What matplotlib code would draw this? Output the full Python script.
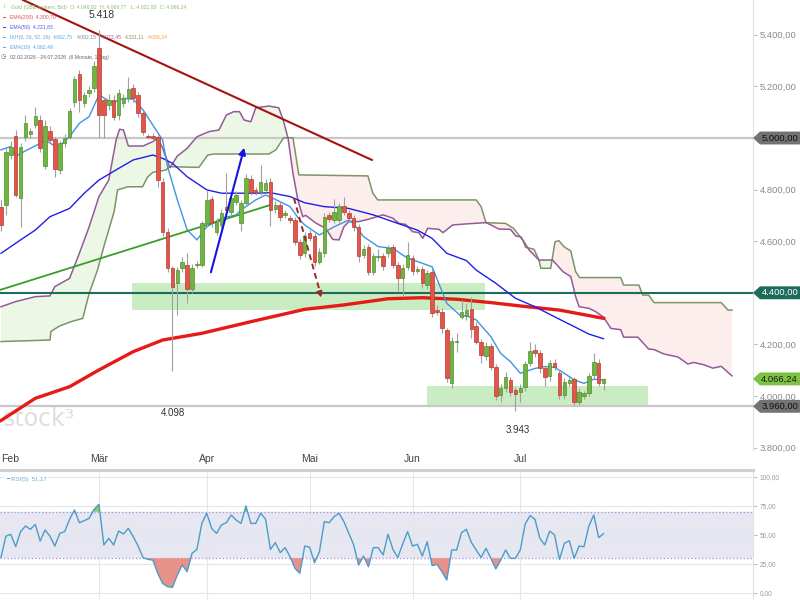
import numpy as np
import matplotlib
matplotlib.use("Agg")
import matplotlib.pyplot as plt
import matplotlib.transforms as mtrans
from matplotlib.patches import Polygon, Rectangle

plt.rcParams['font.family'] = ['Liberation Sans', 'DejaVu Sans']

# daily candles 02.02.2026 - 24.07.2026
opens = [4734, 4740, 4934, 5008, 4766, 5005, 5014, 5050, 5070, 4892,
         5029, 4995, 4876, 4979, 5005, 5141, 5248, 5134, 5176, 5193,
         5348, 5147, 5128, 5147, 5089, 5134, 5154, 5193, 5167, 5096,
         5008, 5008, 5003, 4831, 4637, 4495, 4437, 4495, 4508, 4414,
         4507, 4508, 4669, 4762, 4637, 4663, 4734, 4715, 4753, 4672,
         4750, 4840, 4799, 4792, 4799, 4831, 4724, 4740, 4702, 4689,
         4682, 4598, 4553, 4630, 4620, 4521, 4553, 4702, 4682, 4682,
         4738, 4711, 4691, 4656, 4547, 4576, 4482, 4538, 4543, 4553,
         4576, 4508, 4459, 4499, 4534, 4485, 4492, 4430, 4482, 4331,
         4327, 4256, 4049, 4208, 4308, 4310, 4336, 4271, 4211, 4155,
         4194, 4114, 4004, 4030, 4062, 4023, 4014, 4036, 4127, 4178,
         4168, 4107, 4078, 4129, 4090, 4004, 4052, 4065, 3978, 4000,
         4010, 4081, 4127, 4048.82]
closes = [4663, 4947, 4967, 4779, 4967, 5060, 5027, 5085, 4960, 5047,
          4992, 4879, 4979, 4999, 5106, 5228, 5147, 5167, 5186, 5279,
          5089, 5089, 5147, 5083, 5173, 5154, 5189, 5154, 5096, 5025,
          5003, 4999, 4837, 4637, 4495, 4424, 4488, 4521, 4414, 4495,
          4512, 4669, 4760, 4669, 4676, 4711, 4721, 4766, 4779, 4747,
          4844, 4792, 4790, 4831, 4824, 4721, 4740, 4695, 4708, 4682,
          4598, 4547, 4620, 4611, 4521, 4560, 4695, 4685, 4715, 4737,
          4715, 4689, 4656, 4543, 4569, 4482, 4543, 4544, 4504, 4572,
          4508, 4456, 4498, 4547, 4485, 4491, 4437, 4476, 4323, 4327,
          4262, 4071, 4215, 4213, 4327, 4333, 4258, 4211, 4159, 4194,
          4111, 4000, 4030, 4072, 4017, 4008, 4032, 4124, 4176, 4165,
          4107, 4075, 4127, 4114, 4004, 4056, 4062, 3978, 4017, 4010,
          4078, 4133, 4052, 4066.24]
highs = [4760, 4965, 4990, 5031, 4980, 5089, 5040, 5122, 5090, 5070,
         5045, 5005, 4990, 5015, 5115, 5240, 5265, 5180, 5200, 5300,
         5418, 5160, 5170, 5165, 5190, 5170, 5238, 5210, 5180, 5105,
         5015, 5020, 5010, 4845, 4650, 4505, 4500, 4540, 4553, 4510,
         4525, 4680, 4799, 4775, 4690, 4725, 4863, 4780, 4795, 4760,
         4860, 4855, 4810, 4895, 4840, 4845, 4755, 4755, 4720, 4700,
         4695, 4610, 4635, 4645, 4630, 4575, 4710, 4715, 4765, 4750,
         4773, 4720, 4700, 4665, 4585, 4590, 4555, 4570, 4555, 4585,
         4590, 4520, 4510, 4598, 4545, 4505, 4505, 4490, 4495, 4352,
         4340, 4265, 4230, 4246, 4372, 4360, 4385, 4285, 4220, 4210,
         4205, 4125, 4045, 4094, 4075, 4035, 4045, 4135, 4211, 4200,
         4180, 4120, 4140, 4145, 4100, 4070, 4075, 4075, 4030, 4020,
         4090, 4165, 4145, 4069.77]
lows = [4640, 4700, 4920, 4773, 4656, 4990, 5000, 5040, 4945, 4880,
        4980, 4850, 4860, 4965, 4995, 5120, 5102, 5120, 5160, 5180,
        5000, 4999, 5110, 5070, 5070, 5120, 5140, 5140, 5080, 5010,
        4995, 4990, 4810, 4620, 4480, 4098, 4314, 4480, 4359, 4400,
        4495, 4500, 4655, 4655, 4625, 4650, 4710, 4700, 4740, 4640,
        4735, 4780, 4780, 4780, 4790, 4660, 4710, 4680, 4690, 4670,
        4585, 4530, 4540, 4600, 4505, 4510, 4540, 4675, 4670, 4670,
        4700, 4675, 4640, 4521, 4535, 4469, 4470, 4525, 4490, 4540,
        4495, 4405, 4385, 4490, 4470, 4475, 4420, 4415, 4305, 4315,
        4243, 4055, 4030, 4172, 4300, 4295, 4224, 4200, 4127, 4140,
        4100, 3985, 3975, 4015, 4000, 3943, 3975, 4020, 4115, 4150,
        4090, 4040, 4060, 4100, 3990, 3990, 4040, 3965, 3965, 3990,
        4000, 4070, 4040, 4021.93]

month_pos = [0, 20, 42, 63, 84, 106]
month_names = ["Feb", "Mär", "Apr", "Mai", "Jun", "Jul"]

# moving averages, read at points along the lines
ema200_x = [0, 7, 14, 20, 27, 33, 41, 51, 62, 70, 79, 86, 93, 100, 106, 114, 123]
ema200_y = [3905, 3991, 4036, 4101, 4172, 4217, 4243, 4288, 4336, 4353, 4377,
            4381, 4375, 4362, 4349, 4333, 4301]
ema50_x = [0, 4, 7, 10, 14, 17, 20, 24, 27, 31, 33, 35, 38, 42, 45, 52, 55, 59,
           62, 66, 71, 76, 81, 85, 88, 91, 95, 97, 101, 105, 109, 113, 117, 120, 123]
ema50_y = [4553, 4605, 4643, 4695, 4727, 4786, 4837, 4882, 4915, 4934, 4921,
           4902, 4850, 4799, 4786, 4786, 4788, 4773, 4749, 4734, 4727, 4702,
           4669, 4643, 4611, 4553, 4525, 4488, 4437, 4379, 4346, 4307, 4269,
           4240, 4222]
ema10_x = [0, 2, 3, 4, 6, 8, 9, 11, 12, 14, 16, 18, 20, 22, 23, 25, 27, 29, 31,
           33, 34, 36, 38, 40, 41, 42, 45, 48, 49, 52, 54, 56, 59, 61, 62, 65,
           68, 71, 72, 74, 77, 80, 83, 85, 88, 91, 94, 95, 97, 100, 102, 104,
           106, 109, 111, 113, 115, 117, 119, 121, 123]
ema10_y = [4954, 4967, 4928, 4940, 4960, 4979, 4992, 4969, 4969, 5005, 5057,
           5083, 5167, 5144, 5138, 5154, 5150, 5109, 5050, 4992, 4889, 4760,
           4644, 4605, 4631, 4656, 4689, 4702, 4721, 4760, 4779, 4762, 4734,
           4682, 4663, 4624, 4656, 4682, 4667, 4618, 4579, 4572, 4534, 4521,
           4501, 4359, 4308, 4312, 4295, 4230, 4165, 4133, 4088, 4107, 4114,
           4111, 4088, 4062, 4049, 4065, 4062]

# Ichimoku cloud borders (span A purple, span B olive), 26 days ahead
spanA_x = [0, 3, 7, 10, 11, 14, 16, 18, 20, 22, 23.5, 24.2, 25, 26, 29, 31, 32,
           33, 34.5, 36, 38, 40, 42.5, 44.5, 46, 47.5, 48.7, 49.6, 51, 52, 54.7,
           56.7, 57.6, 58.6, 59.6, 60.6, 61.6, 62.2, 64.3, 66.3, 67.7, 69, 70,
           71, 73, 75, 78, 80, 81.2, 82.6, 84, 85.3, 86.1, 87.1, 89.4, 90.2,
           92.2, 95, 99, 100, 101.6, 104, 105.1, 106.1, 107.8, 109.8, 112.6,
           113.3, 114.7, 116.3, 117.3, 118, 120, 121.4, 123, 124.5, 126.5,
           127.1, 130, 132.2, 133.3, 135.3, 138.2, 140.2, 141.4, 143.5, 145.3,
           147, 149.2]
spanA_y = [4346, 4366, 4385, 4388, 4424, 4456, 4553, 4656, 4773, 4837, 4992,
           5034, 5031, 4969, 4969, 4986, 4999, 4960, 4885, 4930, 4960, 5005,
           5025, 5031, 5089, 5102, 5102, 5070, 5063, 5117, 5124, 5117, 5070,
           4999, 4863, 4760, 4695, 4700, 4670, 4650, 4607, 4605, 4656, 4676,
           4676, 4685, 4702, 4689, 4669, 4665, 4637, 4633, 4611, 4650, 4646,
           4633, 4663, 4667, 4672, 4663, 4647, 4646, 4620, 4617, 4566, 4527,
           4527, 4512, 4482, 4463, 4385, 4346, 4340, 4327, 4305, 4262, 4257,
           4228, 4228, 4182, 4180, 4163, 4151, 4124, 4130, 4121, 4108, 4115,
           4078]
spanB_x = [0, 10, 10.2, 11.9, 14.3, 16.7, 18, 19.7, 21, 23.1, 23.8, 25.9, 28.9,
           29.9, 31, 33.7, 34.3, 40.4, 42.2, 43.5, 54.7, 56.1, 57.7, 59.6, 60.8,
           74.9, 75.9, 76.9, 97, 98, 99, 103, 104.6, 106.5, 107.1, 108.8, 109.8,
           110.2, 112.2, 113.1, 113.9, 114.9, 116.3, 117.3, 118.1, 126.5, 127.1,
           130.2, 131, 132.2, 133.3, 147, 148.4, 149.2]
spanB_y = [4211, 4217, 4250, 4271, 4288, 4301, 4398, 4488, 4579, 4715, 4799,
           4811, 4811, 4848, 4867, 4876, 4889, 4886, 4934, 4938, 4938, 4954,
           5001, 5001, 4857, 4853, 4786, 4760, 4760, 4734, 4672, 4669, 4650,
           4605, 4576, 4569, 4527, 4495, 4495, 4598, 4602, 4579, 4562, 4482,
           4459, 4459, 4430, 4430, 4391, 4391, 4362, 4362, 4333, 4333]

# RSI(5)
rsi = [30.7, 49, 50.6, 40, 52.9, 57.8, 54.9, 59.2, 44.8, 54.3,
       49, 40.5, 51.4, 52.9, 63.5, 71.6, 60.6, 62.4, 64.4, 72.1,
       76.4, 41.4, 47.1, 41.4, 53.4, 50.9, 55.7, 48.6, 40.5, 30.5,
       29, 28.4, 17, 8.3, 5.5, 4.9, 15.5, 24.1, 18.4, 34.2,
       37.6, 60, 68.7, 55.7, 51.4, 58.6, 60.6, 67.2, 62.9, 60,
       75, 60, 60, 68.7, 63.8, 37.6, 43.4, 34.8, 39.1, 31.3,
       21.3, 17, 40.5, 39.4, 26.1, 35.6, 61.5, 60.6, 65.8, 68.7,
       61.5, 51.4, 41.4, 24.1, 31.9, 22.7, 39.1, 39.1, 32.8, 50.6,
       37.6, 30.7, 42.2, 52.9, 40.5, 42, 31.9, 44.3, 23.6, 24.7,
       18.4, 11.2, 37.1, 37.1, 52, 54.9, 43.7, 37.1, 30.7, 38.5,
       29.9, 20.7, 28.4, 37.1, 29.9, 29.9, 37.1, 59.5, 66.7, 63.5,
       47.1, 41.4, 53.4, 50, 29, 42.8, 45.1, 29.9, 40.5, 39.9,
       57.8, 67.2, 47.7, 51.17]

price_ticks = [3800, 4000, 4200, 4600, 4800, 5200, 5400]
rsi_ticks = [0, 25, 50, 75, 100]


def de(v):
    return f"{v:,.2f}".replace(",", "X").replace(".", ",").replace("X", ".")


fig = plt.figure(figsize=(8, 6), dpi=100)
ax = fig.add_axes([0, 0.25, 753 / 800, 0.75])
ax.set_xlim(-0.2, 153.5)
ax.set_ylim(3790.7, 5534.9)

n = len(closes)
idx = np.arange(n)
o = np.array(opens)
c = np.array(closes)
up = c >= o

# cloud
grid = np.linspace(0, spanA_x[-1], 2000)
a = np.interp(grid, spanA_x, spanA_y)
b = np.interp(grid, spanB_x, spanB_y)
ax.fill_between(grid, a, b, where=a >= b, interpolate=True, color='#edf7e6', lw=0, zorder=1)
ax.fill_between(grid, a, b, where=a < b, interpolate=True, color='#fbeeec', lw=0, zorder=1)
ax.plot(spanB_x, spanB_y, color='#7b9566', lw=1.1, zorder=2)
ax.plot(spanA_x, spanA_y, color='#935a98', lw=1.1, zorder=2)

# support zones
ax.add_patch(Rectangle((26.7, 4333), 72.1, 104, color='#c9ecc2', lw=0, zorder=1.5))
ax.add_patch(Rectangle((86.9, 3960), 45.1, 79, color='#c9ecc2', lw=0, zorder=1.5))

# horizontal lines
ax.axhline(5000, color='#c8c8c8', lw=1.6, zorder=1.6)
ax.axhline(3960, color='#c8c8c8', lw=1.6, zorder=1.6)
ax.axhline(4400, color='#1d6d5d', lw=1.5, zorder=2.5)

# watermark
ax.text(0.003, 0.07, "stock\u00b3", transform=ax.transAxes, fontsize=17,
        color='#dedede', ha='left', va='center', zorder=0.5, family='DejaVu Sans')

# moving averages
ax.plot(ema200_x, ema200_y, color='#e41b17', lw=2.4, zorder=3)
ax.plot(ema50_x, ema50_y, color='#1f1fe8', lw=1.0, zorder=3)
ax.plot(ema10_x, ema10_y, color='#3f93e6', lw=1.0, zorder=3.2)

# trend lines
ax.plot([4.5, 75.7], [5535, 4915], color='#a51212', lw=1.5, zorder=3.5)
ax.plot([-0.2, 54.9], [4411, 4740], color='#3a9d2c', lw=1.3, zorder=3.5)

# candles
body_lo = np.minimum(o, c)
body_h = np.maximum(np.abs(c - o), 5)
ax.vlines(idx, lows, highs, color='#a0a0a0', lw=0.8, zorder=4)
ax.bar(idx[up], body_h[up], bottom=body_lo[up], width=0.72, color='#70b540',
       edgecolor='#4f8f2b', lw=0.5, zorder=5)
ax.bar(idx[~up], body_h[~up], bottom=body_lo[~up], width=0.72, color='#e2554b',
       edgecolor='#b53b32', lw=0.5, zorder=5)

# arrows
ax.annotate('', xy=(49.8, 4973), xytext=(42.7, 4469),
            arrowprops=dict(arrowstyle='-|>', color='#1414e0', lw=1.5, mutation_scale=10),
            zorder=6)
ax.plot([59.8, 65.3], [4767, 4390], color='#a0281e', lw=1.4, ls=(0, (3, 2)), zorder=6)
ax.annotate('', xy=(65.5, 4372), xytext=(65.0, 4405),
            arrowprops=dict(arrowstyle='-|>', color='#a0281e', lw=1, mutation_scale=9),
            zorder=6)

# extreme labels
ax.text(20.5, 5478, "5.418", fontsize=7.5, color='#333333', ha='center', va='center')
ax.text(35, 3934, "4.098", fontsize=7, color='#333333', ha='center', va='center')
ax.text(105.5, 3868, "3.943", fontsize=7, color='#333333', ha='center', va='center')

# axes styling
for s in ['top', 'left', 'bottom']:
    ax.spines[s].set_visible(False)
ax.spines['right'].set_color('#e2e2e2')
ax.yaxis.tick_right()
ax.set_yticks(price_ticks)
ax.set_yticklabels([de(v) for v in price_ticks])
ax.tick_params(axis='y', colors='#c0c0c0', labelcolor='#8a8a8a', labelsize=6.8,
               length=3, pad=2)
ax.set_xticks(month_pos)
ax.set_xticklabels(month_names)
ax.tick_params(axis='x', length=0, labelsize=7.5, labelcolor='#444444', pad=3)
ax.get_xticklabels()[0].set_horizontalalignment('left')

# boxed price tags on right axis
blend = mtrans.blended_transform_factory(ax.transAxes, ax.transData)
tags = [(5000, '5.000,00', '#727272', '#111111'),
        (4400, '4.400,00', '#1d6b5b', 'white'),
        (4066.24, '4.066,24', '#7cc243', '#1a1a1a'),
        (3960, '3.960,00', '#737373', '#111111')]
hh = 25
for val, txt, fc, tc in tags:
    pts = [(1.0, val), (1.0093, val + hh), (1.064, val + hh), (1.064, val - hh), (1.0093, val - hh)]
    ax.add_patch(Polygon(pts, closed=True, transform=blend, clip_on=False,
                         facecolor=fc, edgecolor='none', zorder=10))
    ax.text(1.0355, val, txt, transform=blend, ha='center', va='center',
            fontsize=6.8, color=tc, zorder=11, clip_on=False)

# legend block
def ft(x, y, s, col, size=3.7, fam=None):
    kw = {} if fam is None else {'family': fam}
    fig.text(x / 800, 1 - y / 600, s, color=col, fontsize=size, ha='left', va='center', **kw)

ft(2, 7, "\u2195", '#7cb85a', 4.5)
ft(11, 7, "Gold (GBE brokers, Bid)", '#8cc06c')
ft(70, 7, "O: 4.048,82", '#8cc06c')
ft(100, 7, "H: 4.069,77", '#8cc06c')
ft(131, 7, "L: 4.021,93", '#8cc06c')
ft(160, 7, "C: 4.066,24", '#8cc06c')
ft(2, 17, "\u2501", '#e03030', 3.5)
ft(10, 17, "EMA(200)  4.300,70", '#e05050')
ft(2, 27, "\u2501", '#2020e0', 3.5)
ft(10, 27, "EMA(50)  4.221,83", '#5858e8')
ft(2, 37, "\u2501", '#4aa0c8', 3.5)
ft(10, 37, "IKH(9, 26, 52, 26)", '#6aa6d0')
ft(53, 37, "4.062,75", '#5aa8dc')
ft(77, 37, "4.082,15", '#888888')
ft(102, 37, "4.072,45", '#9b5e9b')
ft(125, 37, "4.331,11", '#7a9a5a')
ft(148, 37, "4.066,24", '#f0a040')
ft(2, 47, "\u2501", '#3f93e6', 3.5)
ft(10, 47, "EMA(10)  4.062,49", '#5aa0e6')
ft(1, 57, "\u25f7", '#666666', 4.5, 'DejaVu Sans')
ft(10, 57, "02.02.2026 - 24.07.2026  (6 Monate, 1 Tag)", '#666666')

# RSI panel
ar = fig.add_axes([0, 0, 753 / 800, 130 / 600])
ar.set_xlim(-0.2, 153.5)
ar.set_ylim(-6, 106)
ar.axhspan(30, 70, color='#e7e7f1', lw=0, zorder=0)
for v in rsi_ticks:
    ar.axhline(v, color='#e6e6e6', lw=0.8, zorder=0.5)
for p in month_pos[1:]:
    ar.axvline(p, color='#e6e6e6', lw=0.8, zorder=0.5)
ar.axhline(70, color='#a99ad8', lw=1, ls=(0, (1, 1.5)), zorder=1)
ar.axhline(30, color='#a99ad8', lw=1, ls=(0, (1, 1.5)), zorder=1)
r = np.array(rsi)
ar.fill_between(idx, r, 70, where=r > 70, interpolate=True, color='#8cc95a', lw=0, zorder=2)
ar.fill_between(idx, r, 30, where=r < 30, interpolate=True, color='#e8908a', lw=0, zorder=2)
ar.plot(idx, r, color='#4a9ccb', lw=1.0, zorder=3)
for s in ['left', 'bottom']:
    ar.spines[s].set_visible(False)
ar.spines['top'].set_color('#d0d0d0')
ar.spines['top'].set_linewidth(2.2)
ar.spines['right'].set_color('#e2e2e2')
ar.yaxis.tick_right()
ar.set_yticks(rsi_ticks)
ar.set_yticklabels([de(v) for v in rsi_ticks])
ar.tick_params(axis='y', colors='#c0c0c0', labelcolor='#999999', labelsize=4.8, length=3, pad=2)
ar.set_xticks([])
ar.text(0.008, 0.93, "\u2501 RSI(5)  51,17", transform=ar.transAxes, fontsize=4.3,
        color='#6aaad2', ha='left', va='center', zorder=5,
        bbox=dict(facecolor='white', edgecolor='none', pad=1.2))

fig.savefig("out.png", dpi=100)
